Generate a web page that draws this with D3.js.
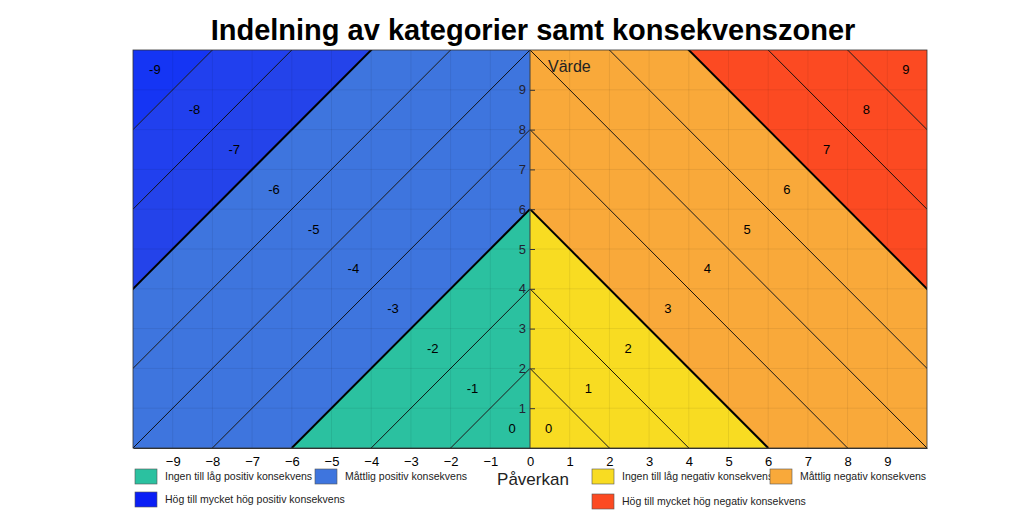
<!DOCTYPE html>
<html><head><meta charset="utf-8">
<script src="https://cdn.jsdelivr.net/npm/d3@7"></script>
<style>body{margin:0;background:#fff;font-family:"Liberation Sans",Arial,sans-serif}</style>
</head><body><svg id="c" width="1024" height="516"></svg>
<script>
const title = "Indelning av kategorier samt konsekvenszoner";
const rightBands = [0,1,2,3,4,5,6,7,8,9];
const rightColors = ["#f8dc22","#f8dc22","#f8dc22","#f9a93a","#f9a93a","#f9a93a","#f9a93a","#fc4a22","#fc4a22","#fc4a22"];
const leftBands = [0,-1,-2,-3,-4,-5,-6,-7,-8,-9];
const leftColors = ["#2bc1a0","#2bc1a0","#2bc1a0","#3e75de","#3e75de","#3e75de","#3e75de","#2443ea","#2140ee","#1535f4"];
const xTicks = [-9,-8,-7,-6,-5,-4,-3,-2,-1,0,1,2,3,4,5,6,7,8,9];
const yTicks = [1,2,3,4,5,6,7,8,9];
const thickLevels = [6,14];
const legendItems = [
 {label:"Ingen till låg positiv konsekvens", color:"#2bc1a0"},
 {label:"Måttlig positiv konsekvens", color:"#3e75de"},
 {label:"Hög till mycket hög positiv konsekvens", color:"#0a1ef5"},
 {label:"Ingen till låg negativ konsekvens", color:"#f8dc22"},
 {label:"Måttlig negativ konsekvens", color:"#f9a93a"},
 {label:"Hög till mycket hög negativ konsekvens", color:"#fc4a22"}
];
const svg = d3.select("#c");
const L=133,R=927,T=50,B=448;
const x = d3.scaleLinear().domain([-10,10]).range([L,R]);
const y = d3.scaleLinear().domain([0,10]).range([B,T]);
svg.append("text").attr("x",533).attr("y",40).attr("text-anchor","middle")
  .attr("font-size",29).attr("font-weight","bold").text(title);
const defs = svg.append("defs");
defs.append("clipPath").attr("id","cr").append("rect").attr("x",x(0)).attr("y",T).attr("width",x(10)-x(0)).attr("height",B-T);
defs.append("clipPath").attr("id","cl").append("rect").attr("x",x(-10)).attr("y",T).attr("width",x(0)-x(-10)).attr("height",B-T);
const line = d3.line().x(d=>x(d[0])).y(d=>y(d[1]));
const gr = svg.append("g").attr("clip-path","url(#cr)");
const gl = svg.append("g").attr("clip-path","url(#cl)");
rightBands.forEach((k,i)=>{
  const a=2*k,b=2*k+2;
  gr.append("path").attr("d",line([[0,a],[a,0],[b,0],[0,b]])+"Z").attr("fill",rightColors[i]);
});
leftBands.forEach((k,i)=>{
  const a=-2*k,b=-2*k+2;
  gl.append("path").attr("d",line([[0,a],[-a,0],[-b,0],[0,b]])+"Z").attr("fill",leftColors[i]);
});
// faint grid
const grid = svg.append("g").attr("stroke","#000").attr("stroke-opacity",0.07).attr("stroke-width",1);
d3.range(-9,10).forEach(v=>grid.append("line").attr("x1",x(v)).attr("x2",x(v)).attr("y1",T).attr("y2",B));
d3.range(1,10).forEach(v=>grid.append("line").attr("x1",L).attr("x2",R).attr("y1",y(v)).attr("y2",y(v)));
// contour lines
for(let c=2;c<=20;c+=2){
  const sw = thickLevels.includes(c)?2:0.9;
  gr.append("path").attr("d",line([[0,c],[c,0]])).attr("stroke","#000").attr("stroke-width",sw).attr("fill","none");
  gl.append("path").attr("d",line([[0,c],[-c,0]])).attr("stroke","#000").attr("stroke-width",sw).attr("fill","none");
}
// band labels
rightBands.forEach(k=>svg.append("text").attr("x",x(k+0.47)).attr("y",y(k+0.5)).attr("dy","0.35em")
  .attr("text-anchor","middle").attr("font-size",13).text(k));
leftBands.forEach(k=>svg.append("text").attr("x",x(k-0.45)).attr("y",y(-k+0.5)).attr("dy","0.35em")
  .attr("text-anchor","middle").attr("font-size",13).text(k));
// center axis line
svg.append("line").attr("x1",x(0)).attr("x2",x(0)).attr("y1",T).attr("y2",B).attr("stroke","#444").attr("stroke-width",1);
// axes
const xa = svg.append("g").attr("transform",`translate(0,${B})`)
  .call(d3.axisBottom(x).tickValues(xTicks).tickSize(0).tickPadding(9).tickFormat(d3.format("d")));
xa.select(".domain").attr("stroke","#333");
xa.selectAll("text").attr("font-size",13).attr("font-family","Liberation Sans, Arial");
const ya = svg.append("g").attr("transform",`translate(${x(0)},0)`)
  .call(d3.axisLeft(y).tickValues(yTicks).tickSize(-5).tickPadding(4).tickFormat(d3.format("d")));
ya.select(".domain").remove();
ya.selectAll("line").attr("stroke","#333");
ya.selectAll("text").attr("font-size",13).attr("fill","#223").attr("font-family","Liberation Sans, Arial");
svg.append("rect").attr("x",L).attr("y",T).attr("width",R-L).attr("height",B-T).attr("fill","none").attr("stroke","#333").attr("stroke-width",0.8);
svg.append("text").attr("x",x(0)+18).attr("y",72).attr("font-size",16).attr("fill","#222").text("Värde");
svg.append("text").attr("x",533).attr("y",485).attr("text-anchor","middle").attr("font-size",17).attr("fill","#222").text("Påverkan");
// legend
const lpos = [[135,469],[315,469],[135,492],[592,469],[770,469],[592,494]];
legendItems.forEach((d,i)=>{
  const [lx,ly]=lpos[i];
  svg.append("rect").attr("x",lx).attr("y",ly).attr("width",22).attr("height",15).attr("fill",d.color).attr("stroke","#555").attr("stroke-width",0.6);
  svg.append("text").attr("x",lx+30).attr("y",ly+11).attr("font-size",10.5).attr("fill","#222").text(d.label);
});
</script></body></html>
